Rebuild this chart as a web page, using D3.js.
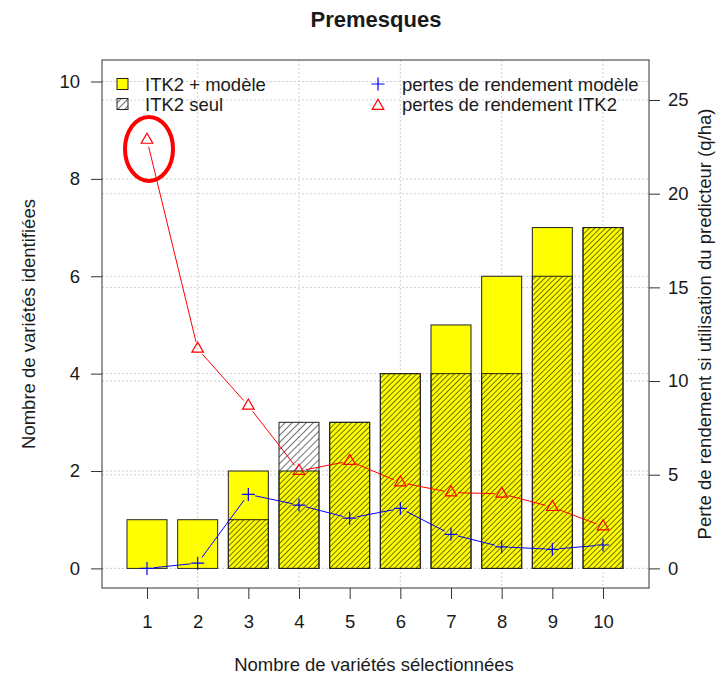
<!DOCTYPE html>
<html lang="fr">
<head>
    <meta charset="UTF-8">
    <title>Premesques</title>
    <script src="https://cdn.jsdelivr.net/npm/d3@7"></script>
    <style>
        body{
            margin: 0;
            background: white;
        }
        svg text{
            font-family: "Liberation Sans", Arial, sans-serif;
            fill: #1a1a1a;
        }
        .tick text{
            font-size: 18.5px;
        }
        .grid{
            stroke: #cfcfcf;
            stroke-dasharray: 2,2;
            stroke-width: 1;
        }
    </style>
</head>
<body>
<svg></svg>
<script>
    // data
    const nbSelect = [1, 2, 3, 4, 5, 6, 7, 8, 9, 10];
    const itk2Modele = [1, 1, 2, 2, 3, 4, 5, 6, 7, 7];     // yellow bars
    const itk2Seul = [0, 0, 1, 3, 3, 4, 4, 4, 6, 7];       // hatched bars
    const pertesModele = [0, 0.28, 3.95, 3.38, 2.68, 3.2, 1.82, 1.15, 1.02, 1.25];
    const pertesITK2 = [22.87, 11.72, 8.68, 5.2, 5.73, 4.58, 4.05, 3.98, 3.27, 2.24];
    const leftTicks = [0, 2, 4, 6, 8, 10];
    const rightTicks = [0, 5, 10, 15, 20, 25];
    const gridX = [2, 4, 6, 8, 10];

    const width = 722;
    const height = 675;
    const box = {left: 102, right: 649, top: 60, bottom: 588};

    const svg = d3.select("svg")
        .attr("width", width)
        .attr("height", height);

    const x = d3.scaleLinear().domain([1, 10]).range([147, 603]);
    const yL = d3.scaleLinear().domain([0, 10]).range([568.4, 81.5]);
    const yR = d3.scaleLinear().domain([0, 25]).range([568.4, 100]);
    const barW = 40;

    // hatch patterns (denser on the yellow part, like the original)
    const defs = svg.append("defs");
    function hatch(id, step){
        const p = defs.append("pattern")
            .attr("id", id)
            .attr("patternUnits", "userSpaceOnUse")
            .attr("width", step).attr("height", step)
            .attr("patternTransform", "rotate(45)");
        p.append("line")
            .attr("x1", 0).attr("y1", 0).attr("x2", 0).attr("y2", step)
            .attr("stroke", "#000").attr("stroke-width", 1.1);
    }
    hatch("hatchDense", 3.8);
    hatch("hatchWide", 5);

    // grid
    const grid = svg.append("g");
    grid.selectAll(".gx").data(gridX).enter().append("line")
        .attr("class", "grid")
        .attr("x1", d => x(d)).attr("x2", d => x(d))
        .attr("y1", box.top).attr("y2", box.bottom);
    grid.selectAll(".gl").data(leftTicks).enter().append("line")
        .attr("class", "grid")
        .attr("x1", box.left).attr("x2", box.right)
        .attr("y1", d => yL(d)).attr("y2", d => yL(d));
    grid.selectAll(".gr").data(rightTicks).enter().append("line")
        .attr("class", "grid")
        .attr("x1", box.left).attr("x2", box.right)
        .attr("y1", d => yR(d)).attr("y2", d => yR(d));

    // bars
    const bars = svg.append("g");
    bars.selectAll(".yellow").data(nbSelect).enter().append("rect")
        .attr("x", d => x(d) - barW / 2)
        .attr("width", barW)
        .attr("y", (d, i) => yL(itk2Modele[i]))
        .attr("height", (d, i) => yL(0) - yL(itk2Modele[i]))
        .attr("fill", "#ffff00");
    // hatch over the yellow part
    bars.selectAll(".hd").data(nbSelect).enter().append("rect")
        .attr("x", d => x(d) - barW / 2)
        .attr("width", barW)
        .attr("y", (d, i) => yL(Math.min(itk2Seul[i], itk2Modele[i])))
        .attr("height", (d, i) => yL(0) - yL(Math.min(itk2Seul[i], itk2Modele[i])))
        .attr("fill", "url(#hatchDense)");
    // hatch over white, where ITK2 seul exceeds
    bars.selectAll(".hw").data(nbSelect).enter().append("rect")
        .attr("x", d => x(d) - barW / 2)
        .attr("width", barW)
        .attr("y", (d, i) => yL(itk2Seul[i]))
        .attr("height", (d, i) => Math.max(0, yL(itk2Modele[i]) - yL(itk2Seul[i])))
        .attr("fill", "url(#hatchWide)");
    // outlines
    bars.selectAll(".ol").data(nbSelect).enter().append("rect")
        .attr("x", d => x(d) - barW / 2)
        .attr("width", barW)
        .attr("y", (d, i) => yL(itk2Modele[i]))
        .attr("height", (d, i) => yL(0) - yL(itk2Modele[i]))
        .attr("fill", "none").attr("stroke", "#222");
    bars.selectAll(".os").data(nbSelect).enter().append("rect")
        .attr("x", d => x(d) - barW / 2)
        .attr("width", barW)
        .attr("y", (d, i) => yL(itk2Seul[i]))
        .attr("height", (d, i) => yL(0) - yL(itk2Seul[i]))
        .attr("fill", "none").attr("stroke", "#222")
        .attr("display", (d, i) => itk2Seul[i] > 0 ? null : "none");

    // lines with gaps around points (type = "b")
    function drawSeries(values, color, symbol){
        const g = svg.append("g");
        const pts = nbSelect.map((d, i) => [x(d), yR(values[i])]);
        const gap = 7;
        for (let i = 0; i < pts.length - 1; i++){
            const [x0, y0] = pts[i], [x1, y1] = pts[i + 1];
            const len = Math.hypot(x1 - x0, y1 - y0);
            if (len <= 2 * gap) continue;
            const ux = (x1 - x0) / len, uy = (y1 - y0) / len;
            g.append("line")
                .attr("x1", x0 + ux * gap).attr("y1", y0 + uy * gap)
                .attr("x2", x1 - ux * gap).attr("y2", y1 - uy * gap)
                .attr("stroke", color).attr("stroke-width", 1);
        }
        pts.forEach(p => symbol(g, p[0], p[1], color));
    }
    function plus(g, cx, cy, color){
        g.append("path")
            .attr("d", `M${cx - 6.5},${cy}H${cx + 6.5}M${cx},${cy - 6.5}V${cy + 6.5}`)
            .attr("stroke", color).attr("stroke-width", 1.2).attr("fill", "none");
    }
    function tri(g, cx, cy, color){
        const r = 6.7, xc = 5.8;
        g.append("path")
            .attr("d", `M${cx},${cy - r}L${cx + xc},${cy + r / 2}L${cx - xc},${cy + r / 2}Z`)
            .attr("stroke", color).attr("stroke-width", 1.2).attr("fill", "none");
    }
    drawSeries(pertesITK2, "#ff0000", tri);
    drawSeries(pertesModele, "#0000ff", plus);

    // red ellipse highlighting the first ITK2 point
    svg.append("ellipse")
        .attr("cx", x(nbSelect[0]) + 2)
        .attr("cy", yR(pertesITK2[0]) + 9)
        .attr("rx", 24).attr("ry", 32)
        .attr("fill", "none").attr("stroke", "#ff0000").attr("stroke-width", 4);

    // box
    svg.append("rect")
        .attr("x", box.left).attr("y", box.top)
        .attr("width", box.right - box.left).attr("height", box.bottom - box.top)
        .attr("fill", "none").attr("stroke", "#333");

    // axes
    const axL = svg.append("g").attr("transform", `translate(${box.left},0)`)
        .call(d3.axisLeft(yL).tickValues(leftTicks).tickSize(11).tickPadding(11));
    const axR = svg.append("g").attr("transform", `translate(${box.right},0)`)
        .call(d3.axisRight(yR).tickValues(rightTicks).tickSize(11).tickPadding(8));
    const axB = svg.append("g").attr("transform", `translate(0,${box.bottom})`)
        .call(d3.axisBottom(x).tickValues(nbSelect).tickSize(11).tickPadding(16));
    [axL, axR, axB].forEach(a => {
        a.select(".domain").remove();
        a.selectAll(".tick line").attr("stroke", "#333");
    });

    // legend
    const leg = svg.append("g").style("font-size", "18.5px");
    leg.append("rect").attr("x", 117).attr("y", 78.5).attr("width", 11).attr("height", 11)
        .attr("fill", "#ffff00").attr("stroke", "#222");
    leg.append("rect").attr("x", 117).attr("y", 98.5).attr("width", 11).attr("height", 11)
        .attr("fill", "url(#hatchWide)").attr("stroke", "#222");
    leg.append("text").attr("x", 145).attr("y", 91).text("ITK2 + modèle");
    leg.append("text").attr("x", 145).attr("y", 111).text("ITK2 seul");
    plus(leg, 378, 84, "#0000ff");
    tri(leg, 378, 106, "#ff0000");
    leg.append("text").attr("x", 402).attr("y", 91).text("pertes de rendement modèle");
    leg.append("text").attr("x", 402).attr("y", 111).text("pertes de rendement ITK2");

    // titles
    svg.append("text")
        .attr("x", 376).attr("y", 27)
        .attr("text-anchor", "middle")
        .style("font-size", "22px").style("font-weight", "bold")
        .text("Premesques");
    svg.append("text")
        .attr("x", 374).attr("y", 671)
        .attr("text-anchor", "middle")
        .style("font-size", "18.5px")
        .text("Nombre de variétés sélectionnées");
    svg.append("text")
        .attr("transform", `translate(35,${(box.top + box.bottom) / 2}) rotate(-90)`)
        .attr("text-anchor", "middle")
        .style("font-size", "18.5px")
        .text("Nombre de variétés identifiées");
    svg.append("text")
        .attr("transform", `translate(711,${(box.top + box.bottom) / 2}) rotate(-90)`)
        .attr("text-anchor", "middle")
        .style("font-size", "18.5px")
        .text("Perte de rendement si utilisation du predicteur (q/ha)");
</script>
</body>
</html>
